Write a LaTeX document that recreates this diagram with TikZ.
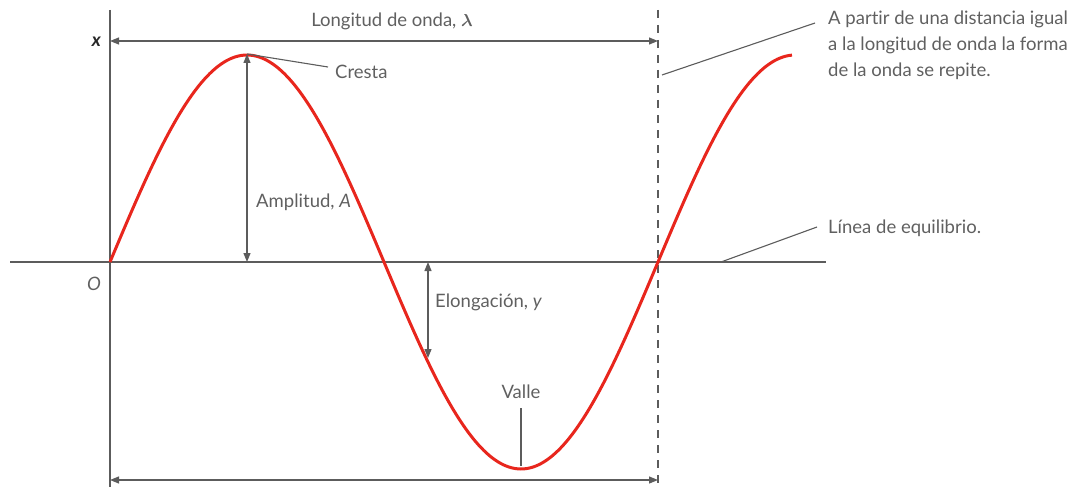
\documentclass[tikz,border=0pt]{standalone}
\usepackage{fontspec}
\setmainfont{Lato}[Ligatures={NoCommon}]
\usetikzlibrary{arrows.meta}
\definecolor{axisgray}{HTML}{5C5C5C}
\definecolor{textgray}{HTML}{606060}
\definecolor{wavered}{HTML}{E8261D}
\begin{document}
\begin{tikzpicture}[x=1pt,y=-1pt,
  axis/.style={draw=axisgray, line width=1.6pt},
  dimline/.style={draw=axisgray, line width=1.2pt, {Triangle[length=9pt,width=7pt]}-{Triangle[length=9pt,width=7pt]}},
  leader/.style={draw=axisgray, line width=1.1pt},
  lbl/.style={text=textgray, font=\fontsize{18.5}{26}\selectfont, inner sep=0pt},
  wave/.style={draw=wavered, line width=3pt}]
\useasboundingbox (0,0) rectangle (1077,487);
% coordinates
\coordinate (axL) at (10,262);
\coordinate (axR) at (826,262);
\coordinate (vT) at (110,10);
\coordinate (vB) at (110,487);
\coordinate (dT) at (658,10);
\coordinate (dB) at (658,487);
\coordinate (tL) at (110,41);
\coordinate (tR) at (658,41);
\coordinate (bL) at (110,480);
\coordinate (bR) at (658,480);
\coordinate (crest) at (247,54);
\coordinate (crestBase) at (247,262);
\coordinate (eT) at (428,262);
\coordinate (eB) at (428,358);
\coordinate (trough) at (521,466);
\coordinate (valleTop) at (521,408);
\coordinate (repStart) at (662,75);
\coordinate (repEnd) at (815,23);
\coordinate (eqStart) at (721,262);
\coordinate (eqEnd) at (817,227);
\coordinate (crestEnd) at (328,67);
% axes
\draw[axis] (axL) -- (axR);
\draw[axis] (vT) -- (vB);
\draw[axis, line width=1.4pt, dash pattern=on 8pt off 7pt] (dT) -- (dB);
% wave
\draw[wave, domain=0:682, samples=240, smooth] plot ({110+\x},{262-207*sin(\x/548*360)});
% dimension arrows
\draw[dimline] (tL) -- (tR);
\draw[dimline] (bL) -- (bR);
\draw[dimline] (crest) -- (crestBase);
\draw[dimline] (eT) -- (eB);
% leaders
\draw[leader] (crest) -- (crestEnd);
\draw[leader] (trough) -- (valleTop);
\draw[leader] (repStart) -- (repEnd);
\draw[leader] (eqStart) -- (eqEnd);
% labels
\node[lbl, anchor=base] (lam) at (392,27) {Longitud de onda, {\boldmath$\lambda$}};
\node[lbl, text=black!85, anchor=base east] (xlab) at (101,47) {\bfseries\itshape x};
\node[lbl, anchor=base east] (olab) at (101,290) {\itshape O};
\node[lbl, anchor=base west] (cresta) at (335,78) {Cresta};
\node[lbl, anchor=base west] (ampl) at (256,207) {Amplitud, \itshape A};
\node[lbl, anchor=base west] (elong) at (435,307) {Elongación, \itshape y};
\node[lbl, anchor=base] (valle) at (521,398) {Valle};
\node[lbl, anchor=base west] (eq) at (828,233) {Línea de equilibrio.};
\node[lbl, anchor=north west, align=left] (rep) at (828,11) {A partir de una distancia igual\\a la longitud de onda la forma\\de la onda se repite.};
\end{tikzpicture}
\end{document}
